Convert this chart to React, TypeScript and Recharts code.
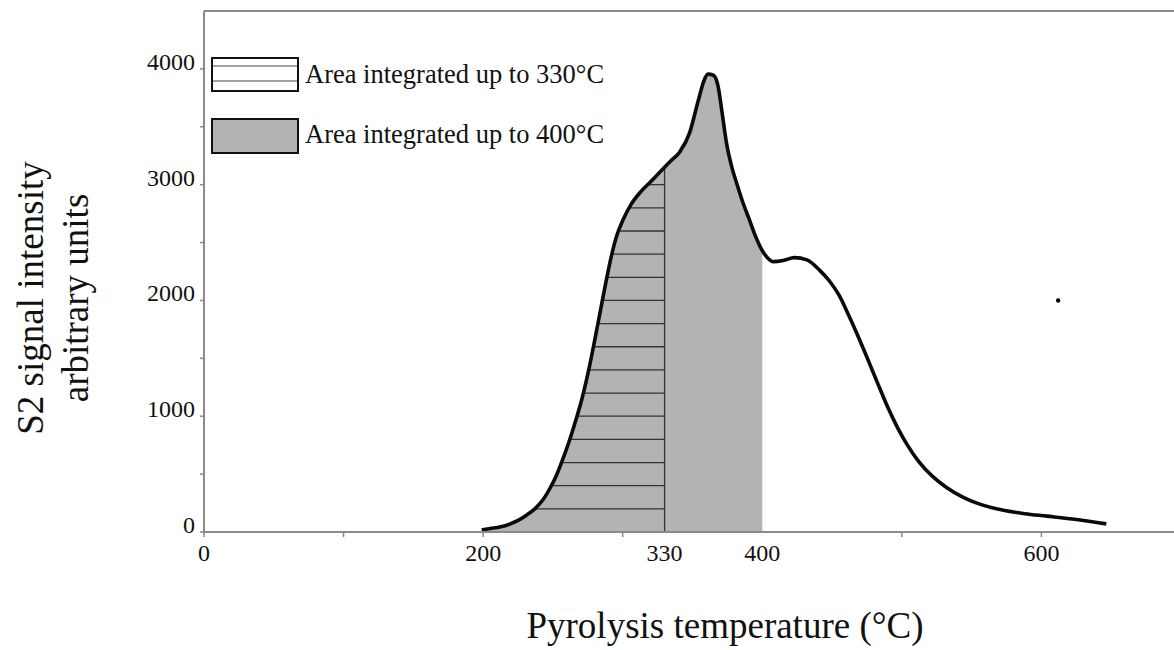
import React from 'react';
import {
  ComposedChart,
  Area,
  Line,
  XAxis,
  YAxis,
  ReferenceLine,
  ReferenceDot,
  Legend,
} from 'recharts';

// ---- data ----
const temperatureC = [
  199, 205, 212, 219, 225, 231, 237, 243, 248, 252, 256, 261, 266, 271, 276, 280, 284, 288, 292,
  296, 300, 306, 313, 320, 326, 330, 334, 341, 348, 354, 358, 361, 365, 368.5, 371, 374.5, 378,
  382, 386, 391, 395, 400, 404, 408, 415, 423, 432, 441, 448, 455, 462, 469, 476, 483, 490, 497,
  504, 512, 522, 532, 544, 558, 572, 588, 604, 625, 646.5,
];
const s2Signal = [
  17, 30, 44, 68, 100, 145, 200, 280, 380, 475, 595, 760, 950, 1160, 1420, 1660, 1910, 2160, 2390,
  2570, 2690, 2830, 2940, 3025, 3100, 3150, 3200, 3285, 3450, 3720, 3890, 3955, 3945, 3840, 3640, 3350, 3160,
  3000, 2850, 2690, 2560, 2430, 2365, 2335, 2345, 2370, 2350, 2262, 2170, 2045, 1870, 1680, 1480, 1275, 1075, 900,
  750, 610, 480, 385, 300, 232, 190, 158, 137, 108, 70,
];
const outlierTemperatureC = [612];
const outlierSignal = [2000];

const xTickValues = [0, 100, 200, 300, 330, 400, 500, 600];
const xTickLabels = ['0', '', '200', '', '330', '400', '', '600'];
const yTickValues = [0, 500, 1000, 1500, 2000, 2500, 3000, 3500, 4000];
const yTickLabels = ['0', '', '1000', '', '2000', '', '3000', '', '4000'];
const hatchLevels = [200, 400, 600, 800, 1000, 1200, 1400, 1600, 1800, 2000, 2200, 2400, 2600, 2800, 3000];
const hatchEndC = 330;
const shadedEndC = 400;
const xDomain = [0, 695];
const yDomain = [0, 4500];

const legendLabels = ['Area integrated up to 330°C', 'Area integrated up to 400°C'];
const xTitle = 'Pyrolysis temperature (°C)';
const yTitleLines = ['S2 signal intensity', 'arbitrary units'];

// ---- derived ----
const FONT = '"Liberation Serif", "Times New Roman", Times, serif';
const AXIS = '#8a8a8a';
const GREY = '#b3b3b3';

const rows = temperatureC.map((t, i) => ({
  t,
  s: s2Signal[i],
  shaded: t <= shadedEndC ? s2Signal[i] : null,
}));

const valueAt = (t: number) => {
  for (let i = 1; i < temperatureC.length; i++) {
    if (temperatureC[i] >= t) {
      const t0 = temperatureC[i - 1];
      const t1 = temperatureC[i];
      const f = (t - t0) / (t1 - t0);
      return s2Signal[i - 1] + f * (s2Signal[i] - s2Signal[i - 1]);
    }
  }
  return s2Signal[s2Signal.length - 1];
};

const crossingAt = (level: number) => {
  for (let i = 1; i < s2Signal.length; i++) {
    if (s2Signal[i] >= level) {
      const f = (level - s2Signal[i - 1]) / (s2Signal[i] - s2Signal[i - 1]);
      return temperatureC[i - 1] + f * (temperatureC[i] - temperatureC[i - 1]);
    }
  }
  return hatchEndC;
};

const XTick = (props: any) => {
  const { x, y, payload } = props;
  const idx = xTickValues.indexOf(payload.value);
  const label = idx >= 0 ? xTickLabels[idx] : '';
  return (
    <g>
      {payload.value !== hatchEndC && payload.value !== shadedEndC && (
        <line x1={x} x2={x} y1={y - 5} y2={y} stroke={AXIS} strokeWidth={1.5} />
      )}
      {label && (
        <text x={x} y={y + 24} textAnchor="middle" fontFamily={FONT} fontSize={24} fill="#111">
          {label}
        </text>
      )}
    </g>
  );
};

const YTick = (props: any) => {
  const { x, y, payload } = props;
  const idx = yTickValues.indexOf(payload.value);
  const label = idx >= 0 ? yTickLabels[idx] : '';
  return (
    <g>
      <line x1={x} x2={x + 4} y1={y} y2={y} stroke={AXIS} strokeWidth={1.5} />
      {label && (
        <text x={x - 5} y={y + 1} textAnchor="end" fontFamily={FONT} fontSize={24} fill="#111">
          {label}
        </text>
      )}
    </g>
  );
};

const YTitle = () => (
  <g>
    {yTitleLines.map((line, i) => (
      <text
        key={line}
        x={i === 0 ? 30 : 75}
        y={298}
        transform={`rotate(-90, ${i === 0 ? 30 : 75}, 298)`}
        textAnchor="middle"
        dominantBaseline="central"
        fontFamily={FONT}
        fontSize={37}
        fill="#111"
      >
        {line}
      </text>
    ))}
  </g>
);

const XTitle = () => (
  <text x={725} y={638} textAnchor="middle" fontFamily={FONT} fontSize={37} fill="#111">
    {xTitle}
  </text>
);

const LegendBox = () => (
  <svg width={430} height={100} style={{ display: 'block' }}>
    <rect x={1} y={1} width={86} height={33} fill="#fff" stroke="#111" strokeWidth={2} />
    <line x1={2} x2={86} y1={9} y2={9} stroke="#444" strokeWidth={1} />
    <line x1={2} x2={86} y1={24} y2={24} stroke="#444" strokeWidth={1} />
    <text x={94} y={26} fontFamily={FONT} fontSize={26.5} fill="#111">
      {legendLabels[0]}
    </text>
    <rect x={1} y={62} width={86} height={34} fill={GREY} stroke="#111" strokeWidth={2} />
    <text x={94} y={86} fontFamily={FONT} fontSize={26.5} fill="#111">
      {legendLabels[1]}
    </text>
  </svg>
);

export default function App() {
  const topAt330 = valueAt(hatchEndC);
  return (
    <div style={{ position: 'absolute', left: 0, top: 0, width: 1174, height: 650, background: '#fff' }}>
      <ComposedChart
        width={1174}
        height={650}
        data={rows}
        margin={{ top: 11, right: 0, bottom: 78, left: 0 }}
      >
        <XAxis
          type="number"
          dataKey="t"
          domain={xDomain}
          ticks={xTickValues}
          interval={0}
          height={40}
          tickSize={5}
          tickMargin={0}
          tickLine={false}
          tick={<XTick />}
          axisLine={{ stroke: AXIS, strokeWidth: 2 }}
          allowDataOverflow
          label={{ content: () => <XTitle /> }}
        />
        <YAxis
          type="number"
          domain={yDomain}
          ticks={yTickValues}
          interval={0}
          width={204}
          tickSize={4}
          tickMargin={0}
          tickLine={false}
          tick={<YTick />}
          axisLine={{ stroke: AXIS, strokeWidth: 2 }}
          allowDataOverflow
          label={{ content: () => <YTitle /> }}
        />
        <ReferenceLine y={yDomain[1]} stroke={AXIS} strokeWidth={2} />
        <Area
          type="monotone"
          dataKey="shaded"
          fill={GREY}
          fillOpacity={1}
          stroke="none"
          isAnimationActive={false}
          connectNulls={false}
          legendType="none"
        />
        {hatchLevels.map((lvl) => (
          <ReferenceLine
            key={lvl}
            segment={[
              { x: crossingAt(lvl), y: lvl },
              { x: hatchEndC, y: lvl },
            ]}
            stroke="#333"
            strokeWidth={1.3}
          />
        ))}
        <ReferenceLine
          segment={[
            { x: hatchEndC, y: 0 },
            { x: hatchEndC, y: topAt330 },
          ]}
          stroke="#333"
          strokeWidth={1.3}
        />
        <Line
          type="monotone"
          dataKey="s"
          stroke="#0a0a0a"
          strokeWidth={3.6}
          dot={false}
          isAnimationActive={false}
          legendType="none"
        />
        {outlierTemperatureC.map((t, i) => (
          <ReferenceDot key={t} x={t} y={outlierSignal[i]} r={2.2} fill="#000" stroke="none" />
        ))}
        <Legend
          layout="horizontal"
          verticalAlign="middle"
          align="center"
          content={() => <LegendBox />}
          wrapperStyle={{ left: 211, top: 57, width: 430, height: 100 }}
        />
      </ComposedChart>
    </div>
  );
}
